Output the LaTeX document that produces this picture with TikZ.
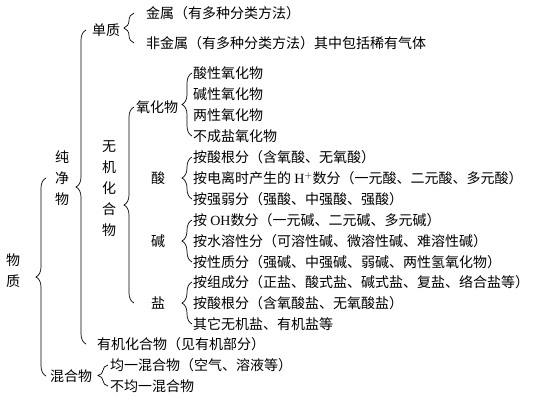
\documentclass[tikz,border=0pt]{standalone}
\usepackage{fontspec}
\setmainfont{Noto Sans CJK SC}
\newfontfamily\lat{Liberation Serif}
\usetikzlibrary{decorations.pathreplacing}

\def\itemx{193}
\tikzset{
  item/.style={anchor=west, inner sep=0pt},
  vert/.style={align=center, inner sep=0pt},
  brc/.style={decorate, decoration={brace, amplitude=10pt}, line width=0.7pt}
}

\begin{document}
\begin{tikzpicture}[x=1pt, y=-1pt, font=\fontsize{14}{21}\selectfont]
  \useasboundingbox (0,0) rectangle (544,400);
  % left column
  \node[vert] (wz) at (13,271) {物\\质};
  \node[vert] (cjw) at (62,178) {纯\\净\\物};
  \node[item] (hh) at (50,376) {混合物};
  % simple substances
  \node[item] (dz) at (92,30) {单质};
  \node[item] (js) at (146,13) {金属（有多种分类方法）};
  \node[item] (fjs) at (146,43) {非金属（有多种分类方法）其中包括稀有气体};
  % inorganic compounds
  \node[vert] (wj) at (109,189) {无\\机\\化\\合\\物};
  \node[item] (yhw) at (136,107) {氧化物};
  \node[item] (o1) at (\itemx,73) {酸性氧化物};
  \node[item] (o2) at (\itemx,94) {碱性氧化物};
  \node[item] (o3) at (\itemx,115) {两性氧化物};
  \node[item] (o4) at (\itemx,136) {不成盐氧化物};
  \node[vert] (s) at (158,178) {酸};
  \node[item] (s1) at (\itemx,157) {按酸根分（含氧酸、无氧酸）};
  \node[item] (s2) at (\itemx,178) {按电离时产生的 {\lat H}$^{+}$数分（一元酸、二元酸、多元酸）};
  \node[item] (s3) at (\itemx,199) {按强弱分（强酸、中强酸、强酸）};
  \node[vert] (j) at (158,241) {碱};
  \node[item] (j1) at (\itemx,220) {按 {\lat OH}数分（一元碱、二元碱、多元碱）};
  \node[item] (j2) at (\itemx,241) {按水溶性分（可溶性碱、微溶性碱、难溶性碱）};
  \node[item] (j3) at (\itemx,262) {按性质分（强碱、中强碱、弱碱、两性氢氧化物）};
  \node[vert] (y) at (158,303) {盐};
  \node[item] (y1) at (\itemx,282) {按组成分（正盐、酸式盐、碱式盐、复盐、络合盐等）};
  \node[item] (y2) at (\itemx,303) {按酸根分（含氧酸盐、无氧酸盐）};
  \node[item] (y3) at (\itemx,324) {其它无机盐、有机盐等};
  \node[item] (yj) at (97,344) {有机化合物（见有机部分）};
  % mixtures
  \node[item] (h1) at (110,365) {均一混合物（空气、溶液等）};
  \node[item] (h2) at (110,386) {不均一混合物};

  % braces
  \draw[brc] ([xshift=-4pt]hh.west) -- ([xshift=-4pt]hh.west |- cjw.west);
  \draw[brc] ([xshift=-6pt]dz.west |- yj.west) -- ([xshift=-6pt]dz.west);
  \draw[brc] ([xshift=-12pt]fjs.west) -- ([xshift=-12pt]js.west);
  \draw[brc] ([xshift=-2pt]yhw.west |- y.center) -- ([xshift=-2pt]yhw.west);
  \draw[brc] ([xshift=-1pt]o4.west) -- ([xshift=-1pt]o1.west);
  \draw[brc] ([xshift=-1pt]s3.west) -- ([xshift=-1pt]s1.west);
  \draw[brc] ([xshift=-1pt]j3.west) -- ([xshift=-1pt]j1.west);
  \draw[brc] ([xshift=-1pt]y3.west) -- ([xshift=-1pt]y1.west);
  \draw[brc] ([xshift=-2pt]h2.west) -- ([xshift=-2pt]h1.west);
\end{tikzpicture}
\end{document}
